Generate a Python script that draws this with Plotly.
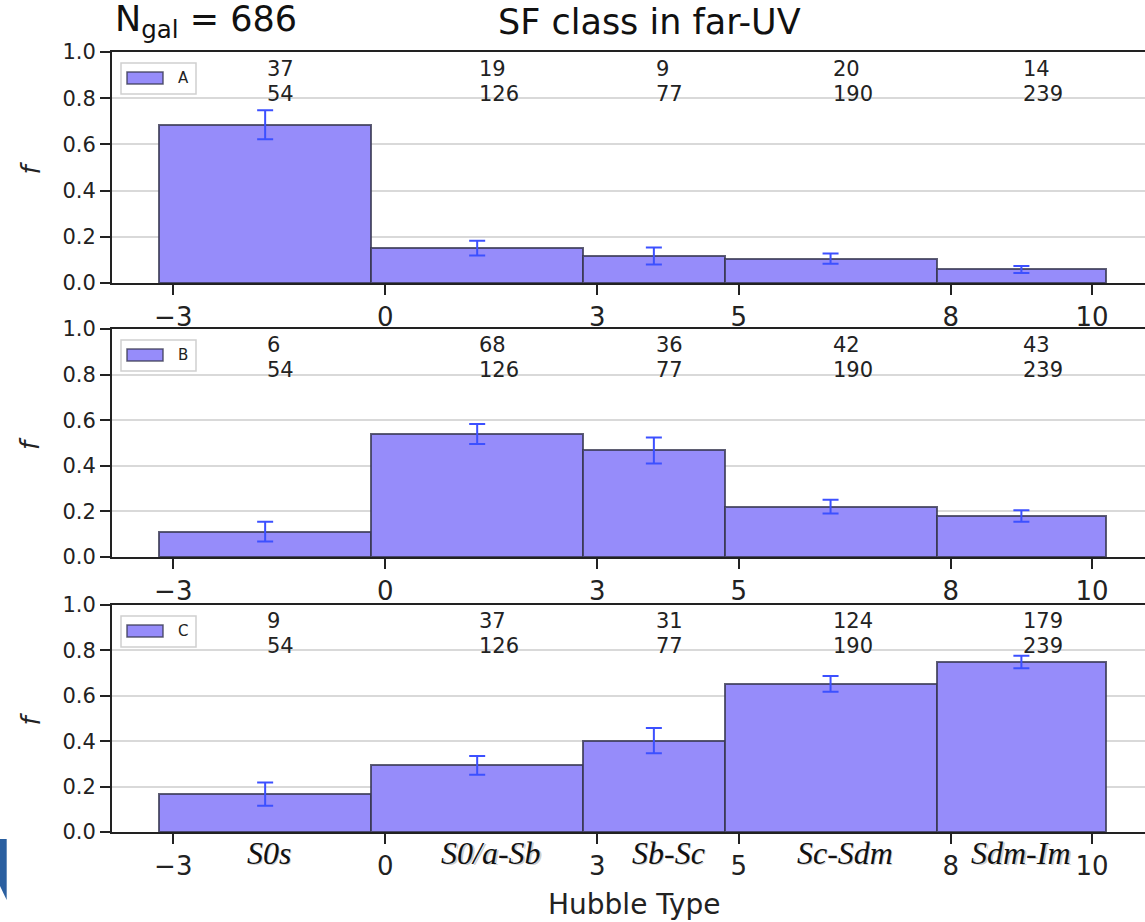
import plotly.graph_objects as go

# Hubble-type bins (edges) and galaxy totals per bin
bin_edges = [-3.2, -0.2, 2.8, 4.8, 7.8, 10.2]
n_total = [54, 126, 77, 190, 239]

# galaxies of each SF class per bin
classes = ["A", "B", "C"]
count_A = [37, 19, 9, 20, 14]
count_B = [6, 68, 36, 42, 43]
count_C = [9, 37, 31, 124, 179]

# uncertainties on the fractions
err_A = [0.063, 0.032, 0.037, 0.022, 0.015]
err_B = [0.043, 0.044, 0.057, 0.030, 0.025]
err_C = [0.051, 0.041, 0.056, 0.035, 0.028]

x_tick_vals = [-3, 0, 3, 5, 8, 10]
x_tick_text = ["\u22123", "0", "3", "5", "8", "10"]
y_tick_vals = [0.0, 0.2, 0.4, 0.6, 0.8, 1.0]
type_labels = ["S0s", "S0/a-Sb", "Sb-Sc", "Sc-Sdm", "Sdm-Im"]
type_label_x = [-1.65, 1.5, 4.0, 6.5, 9.0]

counts = [count_A, count_B, count_C]
errors = [err_A, err_B, err_C]

W, H = 1145, 922
ML, MR, MT, MB = 112, 0, 52, 90
PW, PH = W - ML - MR, H - MT - MB

# panel extents in page pixels (top, bottom)
panels_px = [(52, 283), (329, 557), (605, 832)]


def px_x(p):
    return (p - ML) / PW


def px_y(p):
    return (H - MB - p) / PH


centers = [(bin_edges[i] + bin_edges[i + 1]) / 2 for i in range(len(n_total))]
widths = [bin_edges[i + 1] - bin_edges[i] for i in range(len(n_total))]

FONT = "DejaVu Sans"
BAR_FILL = "rgb(150,140,250)"
BAR_EDGE = "rgba(55,55,80,0.8)"
ERR_COL = "rgb(60,80,255)"

fig = go.Figure()
annotations = []
shapes = []

for k, cls in enumerate(classes):
    sfx = "" if k == 0 else str(k + 1)
    frac = [c / n for c, n in zip(counts[k], n_total)]
    fig.add_trace(go.Bar(
        x=centers, y=frac, width=widths,
        xaxis="x" + sfx, yaxis="y" + sfx,
        marker=dict(color=BAR_FILL, line=dict(color=BAR_EDGE, width=2)),
        error_y=dict(type="data", array=errors[k], color=ERR_COL,
                     thickness=2, width=8),
        showlegend=False, name=cls,
    ))

    top, bot = panels_px[k]
    dom = [px_y(bot), px_y(top)]
    axis_common = dict(
        showline=True, linecolor="#222", linewidth=2,
        ticks="outside", ticklen=10, tickwidth=2, tickcolor="#222",
        zeroline=False,
    )
    fig.layout["xaxis" + sfx] = dict(
        axis_common, domain=[0, 1], anchor="y" + sfx, range=[-3.867, 10.749],
        tickvals=x_tick_vals, ticktext=x_tick_text, mirror=True,
        showgrid=False, tickfont=dict(family=FONT, size=26, color="#222"),
    )
    fig.layout["yaxis" + sfx] = dict(
        axis_common, domain=dom, anchor="x" + sfx, range=[0, 1.0],
        tickvals=y_tick_vals, tickformat=".1f", showgrid=True,
        gridcolor="#d9d9d9", gridwidth=1.5,
        tickfont=dict(family=FONT, size=21, color="#222"),
    )

    # count / total numbers above each bin
    for c, n, xc in zip(counts[k], n_total, centers):
        for txt, shift in ((str(c), -16.5), (str(n), -41.5)):
            annotations.append(dict(
                x=xc, y=1, xref="x" + sfx, yref="y" + sfx + " domain",
                text=txt, showarrow=False, xanchor="left", yanchor="middle",
                yshift=shift, font=dict(family=FONT, size=21, color="#222"),
            ))

    # legend box for the class
    shapes.append(dict(
        type="rect", xref="paper", yref="paper",
        x0=px_x(121), x1=px_x(196), y0=px_y(top + 11), y1=px_y(top + 42),
        line=dict(color="#d0d0d0", width=1.5), fillcolor="rgba(255,255,255,0.85)",
    ))
    shapes.append(dict(
        type="rect", xref="paper", yref="paper",
        x0=px_x(127), x1=px_x(163), y0=px_y(top + 20), y1=px_y(top + 32),
        line=dict(color=BAR_EDGE, width=1.5), fillcolor=BAR_FILL,
    ))
    annotations.append(dict(
        x=px_x(176), y=px_y(top + 26), xref="paper", yref="paper",
        text=cls, showarrow=False, xanchor="left", yanchor="middle",
        font=dict(family=FONT, size=15, color="#222"),
    ))

    # y-axis label
    annotations.append(dict(
        x=px_x(30), y=px_y((top + bot) / 2), xref="paper", yref="paper",
        text="f", showarrow=False, textangle=-90, xanchor="center", yanchor="middle",
        font=dict(family=FONT, size=26, color="#222", style="italic"),
    ))

# morphological labels under the bottom panel (with soft shadow)
for lab, xl in zip(type_labels, type_label_x):
    for col, dx, dy in (("rgba(0,0,0,0.2)", 1.5, -1.5), ("#111", 0, 0)):
        annotations.append(dict(
            x=xl, y=px_y(853), xref="x3", yref="paper", text=lab,
            showarrow=False, xanchor="center", yanchor="middle",
            xshift=dx, yshift=dy,
            font=dict(family="Liberation Serif", size=32, color=col, style="italic"),
        ))

annotations.append(dict(
    x=px_x(634), y=px_y(904), xref="paper", yref="paper", text="Hubble Type",
    showarrow=False, xanchor="center", yanchor="middle",
    font=dict(family=FONT, size=28, color="#222"),
))
annotations.append(dict(
    x=px_x(113), y=px_y(22), xref="paper", yref="paper",
    text="N<sub>gal</sub> = 686", showarrow=False, xanchor="left", yanchor="middle",
    font=dict(family=FONT, size=35, color="#111"),
))
annotations.append(dict(
    x=px_x(649), y=px_y(22), xref="paper", yref="paper",
    text="SF class in far-UV", showarrow=False, xanchor="center", yanchor="middle",
    font=dict(family=FONT, size=35, color="#111"),
))

# slide edge decoration in the lower-left corner
x0, x1 = px_x(0), px_x(6.7)
shapes.append(dict(
    type="path", xref="paper", yref="paper",
    path=f"M {x0},{px_y(839)} L {x1},{px_y(839)} L {x1},{px_y(900)} L {x0},{px_y(886)} Z",
    fillcolor="rgb(42,95,160)", line=dict(width=0),
))

fig.update_layout(
    width=W, height=H, margin=dict(l=ML, r=MR, t=MT, b=MB),
    paper_bgcolor="white", plot_bgcolor="white",
    annotations=annotations, shapes=shapes, bargap=0,
    font=dict(family=FONT),
)

fig.write_html("out.html")
